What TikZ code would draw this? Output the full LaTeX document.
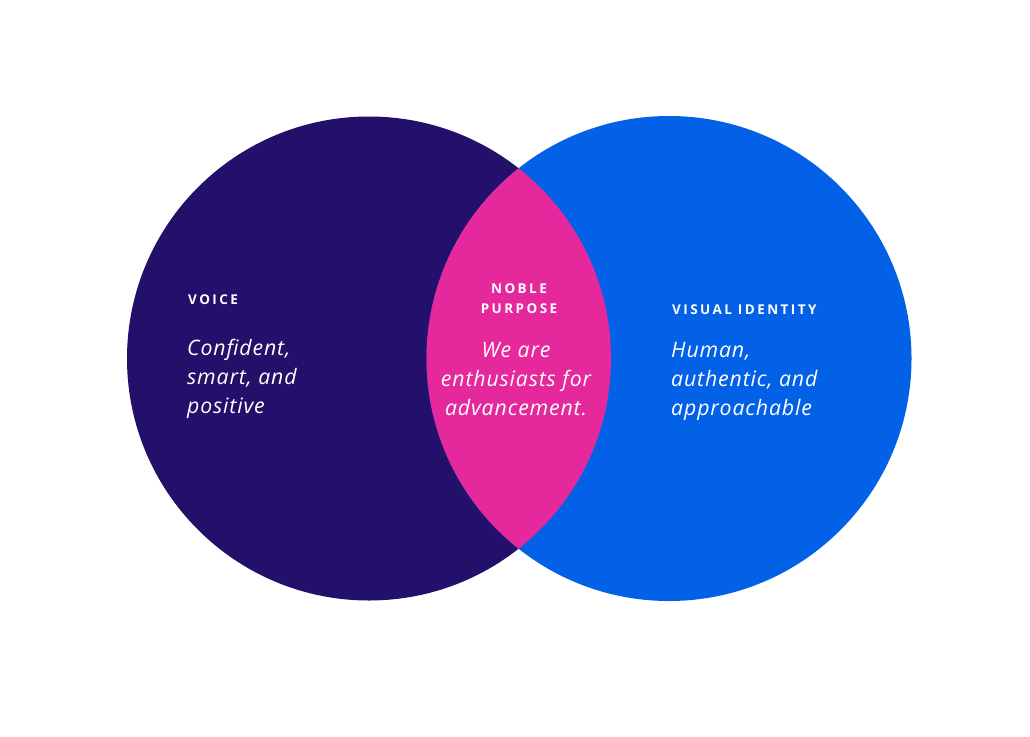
\documentclass[tikz,border=0pt]{standalone}
\usepackage{fontspec}
\setmainfont{Open Sans}
\newfontfamily\labfont[LetterSpace=18]{Open Sans}
\newfontfamily\bodyfont[LetterSpace=4]{Open Sans}
\definecolor{voicecol}{HTML}{23106A}
\definecolor{visualcol}{HTML}{0361E8}
\definecolor{noblecol}{HTML}{E5289B}
\tikzset{
  lab/.style={text=white, inner sep=0pt, font=\labfont\bfseries\fontsize{13.5}{20}\selectfont},
  body/.style={text=white, inner sep=0pt, font=\bodyfont\itshape\fontsize{21.3}{29}\selectfont},
}
\begin{document}
\begin{tikzpicture}[x=1pt,y=-1pt]
\useasboundingbox[fill=white] (0,0) rectangle (1030,736);
\coordinate (cl) at (369,358.5);
\coordinate (cr) at (669,358.5);
\fill[voicecol] (cl) circle[radius=242];
\fill[visualcol] (cr) circle[radius=242.5];
\begin{scope}
  \clip (cl) circle[radius=242];
  \fill[noblecol] (cr) circle[radius=242.5];
\end{scope}
\node[lab, anchor=base west] (voice) at (188,304) {VOICE};
\node[body, anchor=base west, align=left] (voicetxt) at (187,413) {Confident,\\smart, and\\positive};
\node[lab, anchor=base, align=center] (noble) at (519,313) {NOBLE\\PURPOSE};
\node[body, anchor=base, align=center] (nobletxt) at (516,415) {We are\\enthusiasts for\\advancement.};
\node[lab, anchor=base west] (visual) at (672,314) {VISUAL IDENTITY};
\node[body, anchor=base west, align=left] (visualtxt) at (671,415) {Human,\\authentic, and\\approachable};
\end{tikzpicture}
\end{document}
